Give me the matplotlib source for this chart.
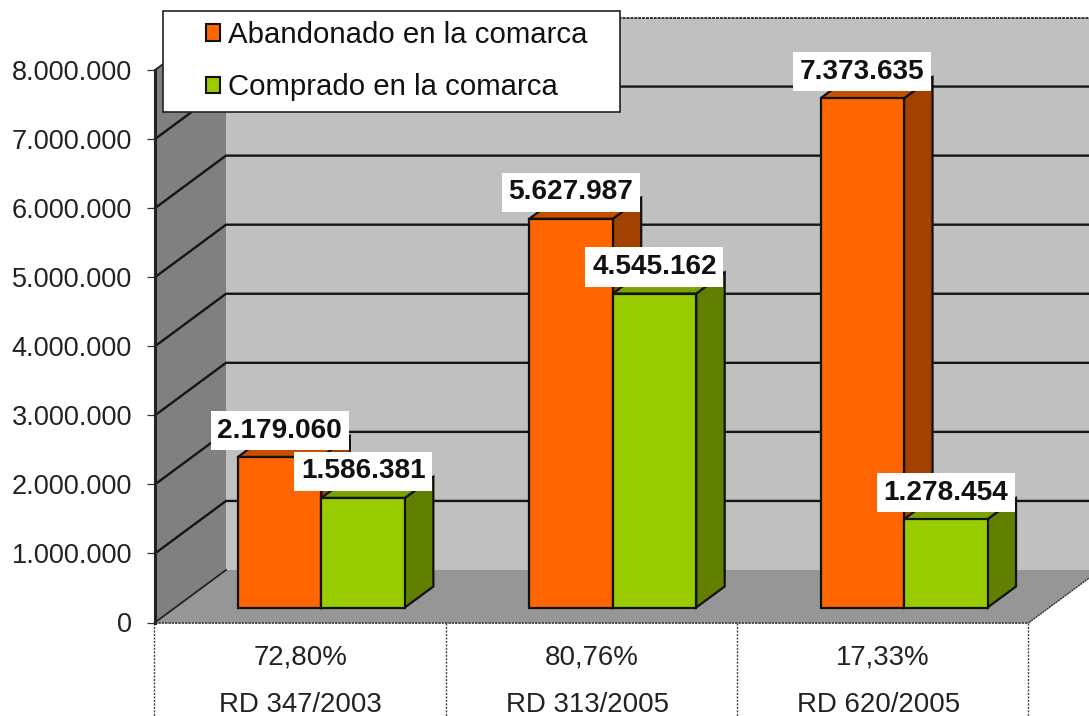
import matplotlib
matplotlib.use("Agg")
import matplotlib.pyplot as plt
from matplotlib.patches import Polygon, Rectangle, Patch
from matplotlib.ticker import FuncFormatter

plt.rcParams['font.family'] = ['Liberation Sans', 'DejaVu Sans']

percentages = ["72,80%", "80,76%", "17,33%"]
decrees = ["RD 347/2003", "RD 313/2005", "RD 620/2005"]
abandonado = [2179060, 5627987, 7373635]
comprado = [1586381, 4545162, 1278454]
series_names = ["Abandonado en la comarca", "Comprado en la comarca"]
y_ticks = [0, 1000000, 2000000, 3000000, 4000000, 5000000, 6000000, 7000000, 8000000]

W, H = 1089, 716
L, R, T, B = 155, 1029, 70, 622.5
fig = plt.figure(figsize=(W / 100, H / 100), dpi=100, facecolor='white')
ax = fig.add_axes([L / W, 1 - B / H, (R - L) / W, (B - T) / H])
ax.set_xlim(0, 3)
ax.set_ylim(0, 8000000)
ax.patch.set_visible(False)
for s in ax.spines.values():
    s.set_visible(False)

PX = 3 / (R - L)
PY = 8000000 / (B - T)
def ox(px): return px * PX
def oy(px): return px * PY

WALL_DX, WALL_DY = 71, 52.5
BAR_DX, BAR_DY = 28.5, 21
FRONT_DX, FRONT_DY = 20.7, 15
BAR_W = 83.5 * PX
EDGE = '#111111'
LW = 1.6

def poly(pts, fc, z, ec='none', lw=0, **kw):
    ax.add_patch(Polygon(pts, closed=True, facecolor=fc, edgecolor=ec, linewidth=lw,
                         zorder=z, clip_on=False, joinstyle='miter', **kw))

top = y_ticks[-1]
wx, wy = ox(WALL_DX), oy(WALL_DY)
# back wall, side wall and floor
poly([(wx, wy), (3 + wx, wy), (3 + wx, top + wy), (wx, top + wy)], '#C0C0C0', 1)
poly([(0, 0), (wx, wy), (wx, top + wy), (0, top)], '#808080', 1)
poly([(0, 0), (3, 0), (3 + wx, wy), (wx, wy)], '#969696', 1)
ax.plot([wx, 3 + wx], [top + wy, top + wy], color='#333333', lw=1.4, ls=(0, (1.5, 0.5)), zorder=1.5, clip_on=False)
ax.plot([0, 3], [0, 0], color='#333333', lw=1.2, ls=(0, (1.5, 0.5)), zorder=1.5, clip_on=False)
ax.plot([3, 3 + wx], [0, wy], color='#333333', lw=1.0, ls=(0, (1.5, 0.5)), zorder=1.5, clip_on=False)
ax.plot([0, wx], [0, wy], color='#222222', lw=1.3, zorder=1.6, clip_on=False)

# gridlines
for v in y_ticks[1:-1]:
    ax.plot([0, wx, 3 + wx], [v, v + wy, v + wy], color='#151515', lw=1.7, zorder=1.6, clip_on=False)
ax.plot([0, wx], [top, top + wy], color='#222222', lw=1.3, zorder=1.6, clip_on=False)
ax.plot([0, 0], [0, top], color='#222222', lw=2.2, zorder=1.7, clip_on=False)

# category separators
for x in range(4):
    ax.plot([x - ox(0.7), x - ox(0.7)], [0, -oy(94)], color='#444444', lw=1.0, ls=(0, (1.5, 1)), zorder=1.5, clip_on=False)

fx, fy = ox(FRONT_DX), oy(FRONT_DY)
bx, by = ox(BAR_DX), oy(BAR_DY)
series = [
    (abandonado, -BAR_W, '#FF6600', '#A34100', '#C65000'),
    (comprado, 0, '#99CC00', '#628000', '#7AA300'),
]
labels = []
z = 2
for i in range(3):
    for vals, shift, face, side, topc in series:
        v = vals[i]
        x0 = i + 0.5 + fx + shift
        y0 = fy
        x1 = x0 + BAR_W
        # side and top faces
        poly([(x1, y0), (x1 + bx, y0 + by), (x1 + bx, y0 + by + v), (x1, y0 + v)], side, z, EDGE, LW)
        poly([(x0, y0 + v), (x1, y0 + v), (x1 + bx, y0 + v + by), (x0 + bx, y0 + v + by)], topc, z, EDGE, LW)
        ax.bar(x0, v, width=BAR_W, bottom=y0, align='edge', color=face, edgecolor=EDGE,
               linewidth=LW, zorder=z + 0.1, clip_on=False)
        z += 0.2
        labels.append((x0 + BAR_W / 2, y0 + v, v))

# value labels
for x, y, v in labels:
    ax.annotate(f"{v:,}".replace(",", "."), (x, y), xytext=(0, 26.5), textcoords='offset pixels',
                ha='center', va='center', fontsize=20.2, fontweight='bold', color='#111111', zorder=6,
                annotation_clip=False,
                bbox=dict(boxstyle='square,pad=0.24', facecolor='white', edgecolor='none'))

# axis
ax.set_yticks(y_ticks)
ax.yaxis.set_major_formatter(FuncFormatter(lambda v, p: f"{int(v):,}".replace(",", ".")))
ax.tick_params(axis='y', length=5.5, width=0.9, color='#333333', pad=11, labelsize=19.5, labelcolor='#222222')
ax.set_xticks([])

# category labels
decree_shift = [0, -5, -5]
for i in range(3):
    ax.annotate(percentages[i], (i + 0.5, 0), xytext=(-0.5, -34.5), textcoords='offset pixels',
                ha='center', va='center', fontsize=19.9, color='#222222', annotation_clip=False)
    ax.annotate(decrees[i], (i + 0.5, 0), xytext=(decree_shift[i], -82), textcoords='offset pixels',
                ha='center', va='center', fontsize=19.9, color='#222222', annotation_clip=False)

# legend
fig.add_artist(Rectangle((163 / W, 1 - 112 / H), 457 / W, 101 / H, transform=fig.transFigure,
                         facecolor='white', edgecolor='#222222', linewidth=1.2, zorder=8))
FS = 21.2
em = FS * 100 / 72
handles = [Patch(facecolor='#FF6600', edgecolor='#111111', linewidth=1.5),
           Patch(facecolor='#99CC00', edgecolor='#111111', linewidth=1.5)]
leg = fig.legend(handles, series_names, loc='upper left',
                 bbox_to_anchor=(206 / W, 1 - 21 / H), bbox_transform=fig.transFigure,
                 frameon=False, fontsize=FS, borderaxespad=0, borderpad=0,
                 handlelength=14 / em, handleheight=14 / em, handletextpad=8 / em,
                 labelspacing=0.83, labelcolor='#111111')
leg.set_zorder(9)

fig.savefig("out.png", dpi=100)
